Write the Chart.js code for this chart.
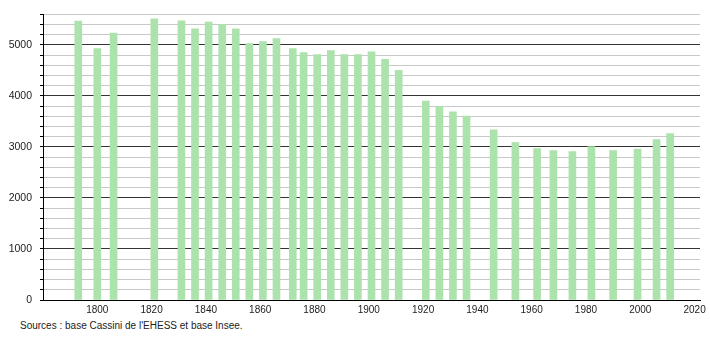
<!DOCTYPE html>
<html>
<head>
<meta charset="utf-8">
<script src="https://cdn.jsdelivr.net/npm/chart.js@4/dist/chart.umd.min.js"></script>
<style>
  body { margin: 0; background: #fff; }
  #wrap { position: relative; width: 710px; height: 320px; }
  #source {
    position: absolute; left: 20px; top: 320px;
    font: 10px "Liberation Sans", Arial, sans-serif; color: #222;
  }
</style>
</head>
<body>
<div id="wrap"><canvas id="chart"></canvas></div>
<div id="source">Sources : base Cassini de l'EHESS et base Insee.</div>
<script>
// census years and population
const years = [1793, 1800, 1806, 1821, 1831, 1836, 1841, 1846, 1851, 1856, 1861, 1866,
  1872, 1876, 1881, 1886, 1891, 1896, 1901, 1906, 1911, 1921, 1926, 1931, 1936,
  1946, 1954, 1962, 1968, 1975, 1982, 1990, 1999, 2006, 2011];
const population = [5465, 4930, 5233, 5510, 5472, 5317, 5446, 5401, 5317, 5026, 5064, 5123,
  4929, 4851, 4812, 4890, 4812, 4812, 4864, 4715, 4502, 3900, 3797, 3687, 3603,
  3337, 3085, 2969, 2930, 2911, 3008, 2930, 2956, 3143, 3260];
const xTicks = [1800, 1820, 1840, 1860, 1880, 1900, 1920, 1940, 1960, 1980, 2000, 2020];

const ctx = document.getElementById('chart').getContext('2d');
new Chart(ctx, {
  type: 'bar',
  data: {
    datasets: [{
      data: years.map((y, i) => ({ x: y, y: population[i] })),
      backgroundColor: 'rgb(172, 226, 172)',
      barThickness: 7
    }]
  },
  options: {
    responsive: true,
    maintainAspectRatio: false,
    animation: false,
    layout: { padding: { top: 10, right: 10, left: 0, bottom: 0 } },
    plugins: { legend: { display: false }, tooltip: { enabled: false } },
    scales: {
      x: {
        type: 'linear',
        offset: false,
        min: 1780,
        max: 2022,
        afterBuildTicks: scale => { scale.ticks = xTicks.map(v => ({ value: v })); },
        afterFit: scale => { scale.height = 20; },
        grid: { display: false, drawTicks: false, offset: false },
        border: { color: '#000', width: 1 },
        ticks: {
          padding: 4,
          maxRotation: 0,
          autoSkip: false,
          color: '#222',
          font: { family: 'Liberation Sans', size: 10 },
          callback: v => String(v)
        }
      },
      y: {
        min: 0,
        max: 5600,
        afterFit: scale => { scale.width = 43; },
        border: { color: '#000', width: 1 },
        grid: {
          color: c => (c.tick.value % 1000 === 0 ? '#333' : '#c8c8c8'),
          tickColor: '#000',
          tickLength: 3,
          lineWidth: 1
        },
        ticks: {
          stepSize: 200,
          maxTicksLimit: 100,
          autoSkip: false,
          padding: 8,
          color: '#222',
          font: { family: 'Liberation Sans', size: 10.5 },
          callback: v => (v % 1000 === 0 ? String(v) : '')
        }
      }
    }
  }
});
</script>
</body>
</html>
